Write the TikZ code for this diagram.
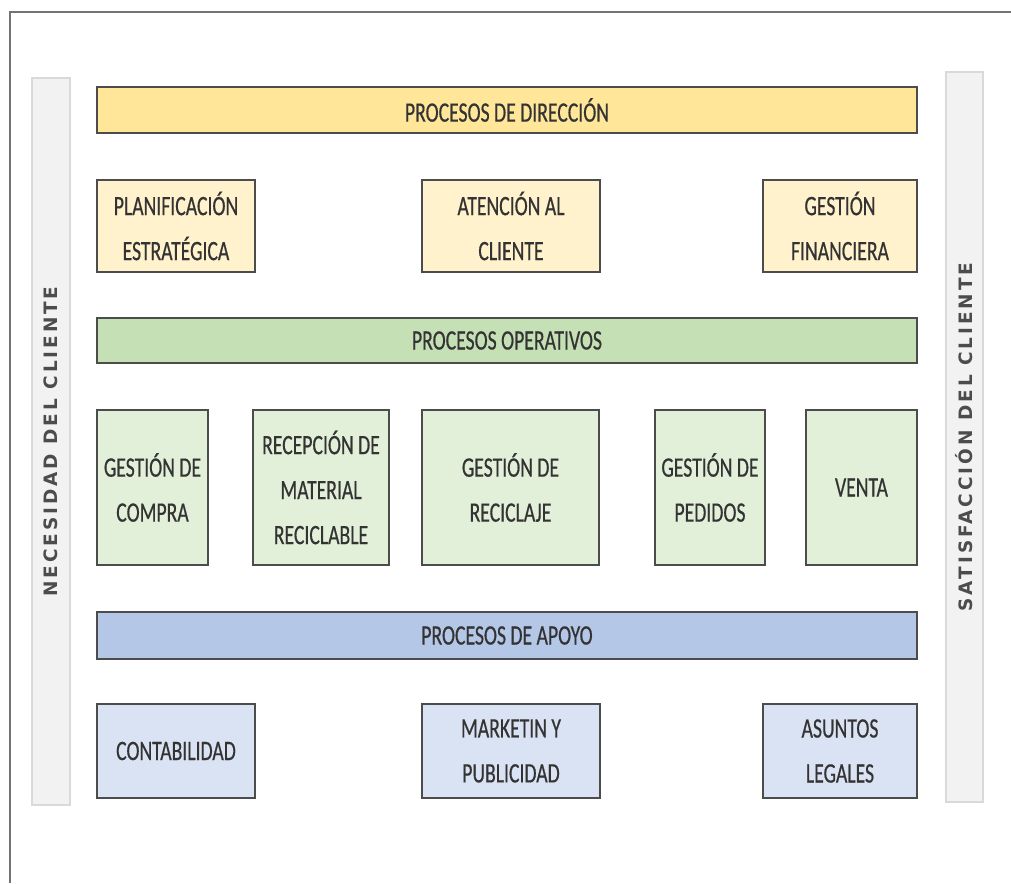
\documentclass[tikz,border=0pt]{standalone}
\usepackage{fontspec}
\usepackage{tikz}
\newfontfamily\boxfont[FakeStretch=0.7,FakeBold=0.5]{Carlito}
\newfontfamily\sidefont[LetterSpace=16]{DejaVu Sans Bold}
\definecolor{dirbar}{HTML}{FFE699}
\definecolor{dirbox}{HTML}{FFF2CC}
\definecolor{opbar}{HTML}{C5E0B4}
\definecolor{opbox}{HTML}{E2F0D9}
\definecolor{apbar}{HTML}{B4C7E7}
\definecolor{apbox}{HTML}{DAE3F3}
\definecolor{sidegray}{HTML}{F2F2F2}
\definecolor{txtgray}{HTML}{333333}

\begin{document}
\begin{tikzpicture}[x=0.02cm,y=-0.02cm,
  proc/.style={draw=black!70,line width=1.2pt,inner sep=0pt,align=center,text=txtgray,
    font={\boxfont\fontsize{16}{25.6}\selectfont}},
  bar/.style={proc,minimum width=16.4cm},
  side/.style={draw=black!15,fill=sidegray,line width=0.8pt,rotate=90,inner sep=0pt,
    text=black!70,font={\sidefont\fontsize{10.5}{12}\selectfont}}]
  \useasboundingbox (0,0) rectangle (1011,883);
  \draw[black!55,line width=0.6pt] (10,883) -- (10,12) -- (1011,12);
  % side bars
  \node[side,minimum width=14.54cm,minimum height=0.76cm] (need) at (51,441.5) {NECESIDAD DEL CLIENTE};
  \node[side,minimum width=14.6cm,minimum height=0.74cm] (sat) at (964.5,437) {SATISFACCIÓN DEL CLIENTE};
  % direccion
  \node[bar,fill=dirbar,minimum height=0.92cm] (dir) at (507,110) {PROCESOS DE DIRECCIÓN};
  \node[proc,fill=dirbox,minimum width=3.16cm,minimum height=1.84cm] (plan) at (176,226) {PLANIFICACIÓN\\ESTRATÉGICA};
  \node[proc,fill=dirbox,minimum width=3.56cm,minimum height=1.84cm] (aten) at (511,226) {ATENCIÓN AL\\CLIENTE};
  \node[proc,fill=dirbox,minimum width=3.08cm,minimum height=1.84cm] (fin) at (840,226) {GESTIÓN\\FINANCIERA};
  % operativos
  \node[bar,fill=opbar,minimum height=0.9cm] (op) at (507,340.5) {PROCESOS OPERATIVOS};
  \node[proc,fill=opbox,minimum width=2.22cm,minimum height=3.1cm] (compra) at (152.5,487.5) {GESTIÓN DE\\COMPRA};
  \node[proc,fill=opbox,minimum width=2.72cm,minimum height=3.1cm] (recep) at (321,487.5) {RECEPCIÓN DE\\MATERIAL\\RECICLABLE};
  \node[proc,fill=opbox,minimum width=3.54cm,minimum height=3.1cm] (recic) at (510.5,487.5) {GESTIÓN DE\\RECICLAJE};
  \node[proc,fill=opbox,minimum width=2.2cm,minimum height=3.1cm] (ped) at (710,487.5) {GESTIÓN DE\\PEDIDOS};
  \node[proc,fill=opbox,minimum width=2.22cm,minimum height=3.1cm] (venta) at (861.5,487.5) {VENTA};
  % apoyo
  \node[bar,fill=apbar,minimum height=0.94cm] (ap) at (507,635.5) {PROCESOS DE APOYO};
  \node[proc,fill=apbox,minimum width=3.16cm,minimum height=1.88cm] (conta) at (176,751) {CONTABILIDAD};
  \node[proc,fill=apbox,minimum width=3.56cm,minimum height=1.88cm] (mkt) at (511,751) {MARKETIN Y\\PUBLICIDAD};
  \node[proc,fill=apbox,minimum width=3.08cm,minimum height=1.88cm] (leg) at (840,751) {ASUNTOS\\LEGALES};
\end{tikzpicture}
\end{document}
